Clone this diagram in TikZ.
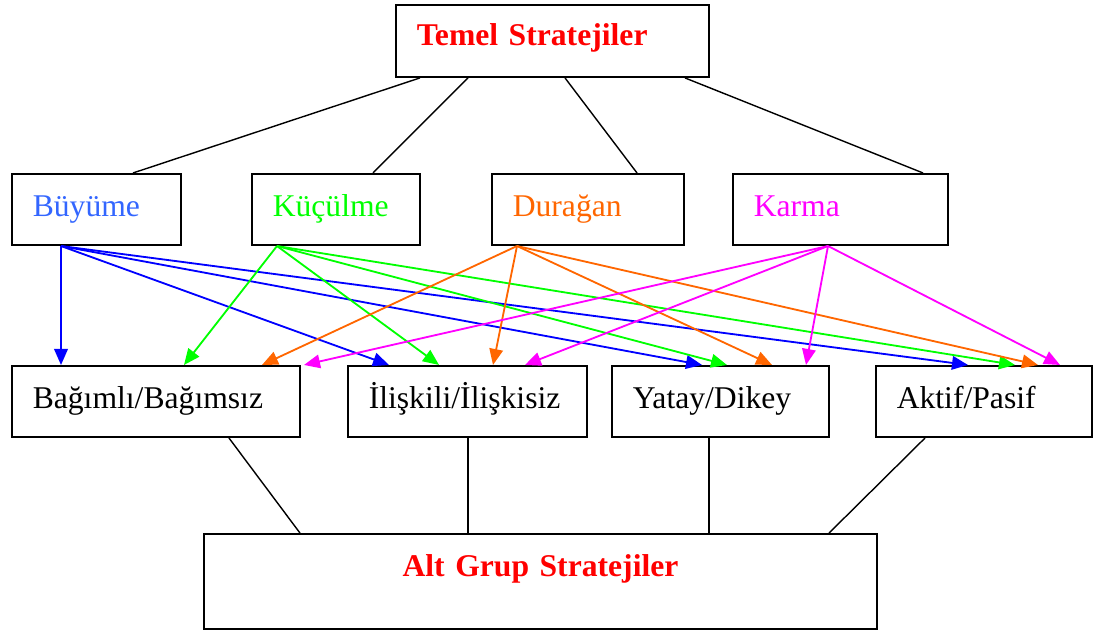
\documentclass[tikz,border=0pt]{standalone}
\usepackage{fontspec}
\setmainfont{Liberation Serif}
\usepackage{tikz}
\usetikzlibrary{arrows.meta}
\definecolor{mavi}{RGB}{0,0,255}
\definecolor{acikmavi}{RGB}{51,102,255}
\definecolor{yesil}{RGB}{0,255,0}
\definecolor{turuncu}{RGB}{255,102,0}
\definecolor{pembe}{RGB}{255,0,255}
\definecolor{kirmizi}{RGB}{255,0,0}

\begin{document}
\begin{tikzpicture}[x=0.025cm, y=-0.025cm, >={Triangle[length=0.4cm,width=0.34cm]},
    kutu/.style={draw, line width=1.3pt, rectangle, inner xsep=0.52cm, align=left, minimum height=1.78cm, text height=15pt, text depth=5pt, font=\fontsize{22.5}{26}\selectfont},
    bag/.style={line width=1pt},
    ok/.style={line width=1.3pt, ->}] %x,y birimi = bir piksel
    \useasboundingbox (0,0) rectangle (1104,630);

    % ust kutu ve ana stratejiler
    \node[kutu, text width=6.785cm, minimum height=1.8cm, text depth=8pt, font=\fontsize{22.5}{26}\selectfont\bfseries] (top) at (552.5,41) {\color{kirmizi}Temel Stratejiler};
    \node[kutu, text width=3.185cm] (buy) at (96.5,209.5) {\color{acikmavi}Büyüme};
    \node[kutu, text width=3.16cm] (kuc) at (336,209.5) {\color{yesil}Küçülme};
    \node[kutu, text width=3.76cm] (dur) at (588,209.5) {\color{turuncu}Durağan};
    \node[kutu, text width=4.335cm] (kar) at (840.5,209.5) {\color{pembe}Karma};

    % alt grup kutulari
    \node[kutu, text width=6.16cm] (bgm) at (156,401.5) {Bağımlı/Bağımsız};
    \node[kutu, text width=4.935cm] (ili) at (467.5,401.5) {İlişkili/İlişkisiz};
    \node[kutu, text width=4.385cm] (yat) at (720.5,401.5) {Yatay/Dikey};
    \node[kutu, text width=4.36cm] (akt) at (984,401.5) {Aktif/Pasif};
    \node[kutu, text width=15.785cm, align=center, minimum height=2.375cm, text height=16pt, text depth=23pt, font=\fontsize{22.5}{26}\selectfont\bfseries] (alt) at (540.5,581.5) {\color{kirmizi}Alt Grup Stratejiler};

    % siyah baglanti cizgileri
    \draw[bag] (top.south -| 420,0) -- (buy.north -| 133,0);
    \draw[bag] (top.south -| 468,0) -- (kuc.north -| 373,0);
    \draw[bag] (top.south -| 565,0) -- (dur.north -| 637,0);
    \draw[bag] (top.south -| 685,0) -- (kar.north -| 923,0);
    \draw[bag] (bgm.south -| 229,0) -- (alt.north -| 300,0);
    \draw[bag] (ili.south -| 468,0) -- (alt.north -| 468,0);
    \draw[bag] (yat.south -| 709,0) -- (alt.north -| 709,0);
    \draw[bag] (akt.south -| 925,0) -- (alt.north -| 829,0);

    % Büyüme oklari
    \draw[ok, mavi] (buy.south -| 61,0) -- (bgm.north -| 61,0);
    \draw[ok, mavi] (buy.south -| 61,0) -- (ili.north -| 389,0);
    \draw[ok, mavi] (buy.south -| 61,0) -- (yat.north -| 702,0);
    \draw[ok, mavi] (buy.south -| 61,0) -- (akt.north -| 968,0);
    % Küçülme oklari
    \draw[ok, yesil] (kuc.south -| 277,0) -- (bgm.north -| 184,0);
    \draw[ok, yesil] (kuc.south -| 277,0) -- (ili.north -| 439,0);
    \draw[ok, yesil] (kuc.south -| 277,0) -- (yat.north -| 727,0);
    \draw[ok, yesil] (kuc.south -| 277,0) -- (akt.north -| 1015,0);
    % Durağan oklari
    \draw[ok, turuncu] (dur.south -| 517,0) -- (bgm.north -| 262,0);
    \draw[ok, turuncu] (dur.south -| 517,0) -- (ili.north -| 493,0);
    \draw[ok, turuncu] (dur.south -| 517,0) -- (yat.north -| 772,0);
    \draw[ok, turuncu] (dur.south -| 517,0) -- (akt.north -| 1038,0);
    % Karma oklari
    \draw[ok, pembe] (kar.south -| 828,0) -- (bgm.north -| 304,0);
    \draw[ok, pembe] (kar.south -| 828,0) -- (ili.north -| 525,0);
    \draw[ok, pembe] (kar.south -| 828,0) -- (yat.north -| 806,0);
    \draw[ok, pembe] (kar.south -| 828,0) -- (akt.north -| 1060,0);
\end{tikzpicture}
\end{document}
